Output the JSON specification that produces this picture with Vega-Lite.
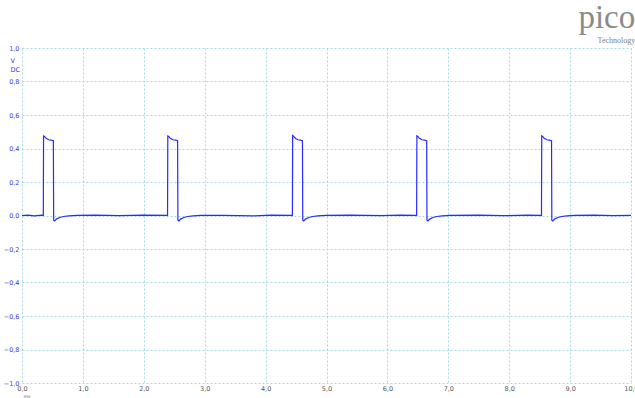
{
  "$schema": "https://vega.github.io/schema/vega-lite/v6.json",
  "autosize": {"type": "none"},
  "padding": {"left": 22, "top": 48, "right": 4, "bottom": 15},
  "width": 609,
  "height": 335,
  "background": "white",
  "title": {
    "text": "pico",
    "subtitle": "Technology",
    "anchor": "end",
    "font": "Liberation Serif",
    "fontSize": 33,
    "fontWeight": "normal",
    "color": "#8a8a8a",
    "subtitleFont": "Liberation Serif",
    "subtitleFontSize": 8,
    "subtitleColor": "#808080",
    "subtitlePadding": 2,
    "offset": 0,
    "dx": -3
  },
  "data": {
    "values": [
      {"t": 0.0, "v": 0.0}, {"t": 0.1, "v": 0.002}, {"t": 0.2, "v": -0.002}, {"t": 0.33, "v": 0.002},
      {"t": 0.35, "v": 0.0}, {"t": 0.354, "v": 0.475}, {"t": 0.37, "v": 0.472}, {"t": 0.39, "v": 0.462},
      {"t": 0.41, "v": 0.458}, {"t": 0.44, "v": 0.452}, {"t": 0.48, "v": 0.45}, {"t": 0.515, "v": 0.447},
      {"t": 0.52, "v": -0.028}, {"t": 0.535, "v": -0.032}, {"t": 0.57, "v": -0.02}, {"t": 0.62, "v": -0.012},
      {"t": 0.68, "v": -0.006}, {"t": 0.77, "v": -0.002}, {"t": 0.9, "v": 0.001},
      {"t": 1.2, "v": 0.002}, {"t": 1.6, "v": -0.001}, {"t": 2.0, "v": 0.002}, {"t": 2.37, "v": 0.001},
      {"t": 2.39, "v": 0.0}, {"t": 2.394, "v": 0.475}, {"t": 2.41, "v": 0.472}, {"t": 2.43, "v": 0.462},
      {"t": 2.45, "v": 0.458}, {"t": 2.48, "v": 0.452}, {"t": 2.52, "v": 0.45}, {"t": 2.555, "v": 0.447},
      {"t": 2.56, "v": -0.028}, {"t": 2.575, "v": -0.032}, {"t": 2.61, "v": -0.02}, {"t": 2.66, "v": -0.012},
      {"t": 2.72, "v": -0.006}, {"t": 2.81, "v": -0.002}, {"t": 2.94, "v": 0.001},
      {"t": 3.3, "v": 0.001}, {"t": 3.8, "v": -0.002}, {"t": 4.1, "v": 0.002}, {"t": 4.42, "v": 0.001},
      {"t": 4.44, "v": 0.0}, {"t": 4.444, "v": 0.478}, {"t": 4.46, "v": 0.474}, {"t": 4.48, "v": 0.464},
      {"t": 4.5, "v": 0.458}, {"t": 4.53, "v": 0.452}, {"t": 4.57, "v": 0.45}, {"t": 4.605, "v": 0.447},
      {"t": 4.61, "v": -0.028}, {"t": 4.625, "v": -0.032}, {"t": 4.66, "v": -0.02}, {"t": 4.71, "v": -0.012},
      {"t": 4.77, "v": -0.006}, {"t": 4.86, "v": -0.002}, {"t": 4.99, "v": 0.001},
      {"t": 5.4, "v": 0.002}, {"t": 5.9, "v": -0.001}, {"t": 6.2, "v": 0.002}, {"t": 6.46, "v": 0.001},
      {"t": 6.48, "v": 0.0}, {"t": 6.484, "v": 0.476}, {"t": 6.5, "v": 0.472}, {"t": 6.52, "v": 0.462},
      {"t": 6.54, "v": 0.458}, {"t": 6.57, "v": 0.452}, {"t": 6.61, "v": 0.45}, {"t": 6.645, "v": 0.447},
      {"t": 6.65, "v": -0.028}, {"t": 6.665, "v": -0.032}, {"t": 6.7, "v": -0.02}, {"t": 6.75, "v": -0.012},
      {"t": 6.81, "v": -0.006}, {"t": 6.9, "v": -0.002}, {"t": 7.03, "v": 0.001},
      {"t": 7.5, "v": 0.002}, {"t": 7.9, "v": -0.001}, {"t": 8.3, "v": 0.002}, {"t": 8.51, "v": 0.001},
      {"t": 8.53, "v": 0.0}, {"t": 8.534, "v": 0.476}, {"t": 8.55, "v": 0.472}, {"t": 8.57, "v": 0.462},
      {"t": 8.59, "v": 0.458}, {"t": 8.62, "v": 0.452}, {"t": 8.66, "v": 0.45}, {"t": 8.695, "v": 0.447},
      {"t": 8.7, "v": -0.028}, {"t": 8.715, "v": -0.032}, {"t": 8.75, "v": -0.02}, {"t": 8.8, "v": -0.012},
      {"t": 8.86, "v": -0.006}, {"t": 8.95, "v": -0.002}, {"t": 9.08, "v": 0.001},
      {"t": 9.4, "v": 0.002}, {"t": 9.7, "v": -0.001}, {"t": 10.0, "v": 0.001}
    ]
  },
  "mark": {"type": "line", "color": "#2a2aff", "strokeWidth": 1.2, "interpolate": "linear"},
  "encoding": {
    "x": {
      "field": "t",
      "type": "quantitative",
      "scale": {"domain": [0, 10], "nice": false, "zero": false},
      "axis": {
        "values": [0, 1, 2, 3, 4, 5, 6, 7, 8, 9, 10],
        "labelExpr": "replace(format(datum.value, '.1f'), '.', ',')",
        "grid": true,
        "gridColor": "#a9d6e6",
        "gridDash": [2, 2],
        "gridWidth": 1,
        "domain": false,
        "ticks": false,
        "labelFont": "DejaVu Sans",
        "labelFontSize": 6.5,
        "labelColor": "#555555",
        "labelPadding": 2,
        "labelOverlap": false,
        "labelFlush": false,
        "labelBound": false,
        "title": "ms",
        "titleFont": "DejaVu Sans",
        "titleFontSize": 4.5,
        "titleFontWeight": "normal",
        "titleColor": "#666666",
        "titleAnchor": "start",
        "titleAlign": "left",
        "titleX": 1,
        "titleY": 10,
        "titleBaseline": "top"
      }
    },
    "y": {
      "field": "v",
      "type": "quantitative",
      "scale": {"domain": [-1, 1], "nice": false, "zero": false},
      "axis": {
        "values": [-1, -0.8, -0.6, -0.4, -0.2, 0, 0.2, 0.4, 0.6, 0.8, 1],
        "labelExpr": "replace(format(datum.value, '.1f'), '.', ',')",
        "grid": true,
        "gridColor": "#a9d6e6",
        "gridDash": [2, 2],
        "gridWidth": 1,
        "domain": false,
        "ticks": false,
        "labelFont": "DejaVu Sans",
        "labelFontSize": 6.5,
        "labelColor": "#3a3ad8",
        "labelPadding": 3,
        "labelOverlap": false,
        "labelFlush": false,
        "labelBound": false,
        "title": ["V", "DC"],
        "titleFont": "DejaVu Sans",
        "titleFontSize": 6.5,
        "titleFontWeight": "normal",
        "titleColor": "#3a3ad8",
        "titleAngle": 0,
        "titleAlign": "left",
        "titleBaseline": "top",
        "titleX": -12,
        "titleY": 9,
        "titleLineHeight": 9
      }
    }
  },
  "config": {"view": {"stroke": null}}
}
